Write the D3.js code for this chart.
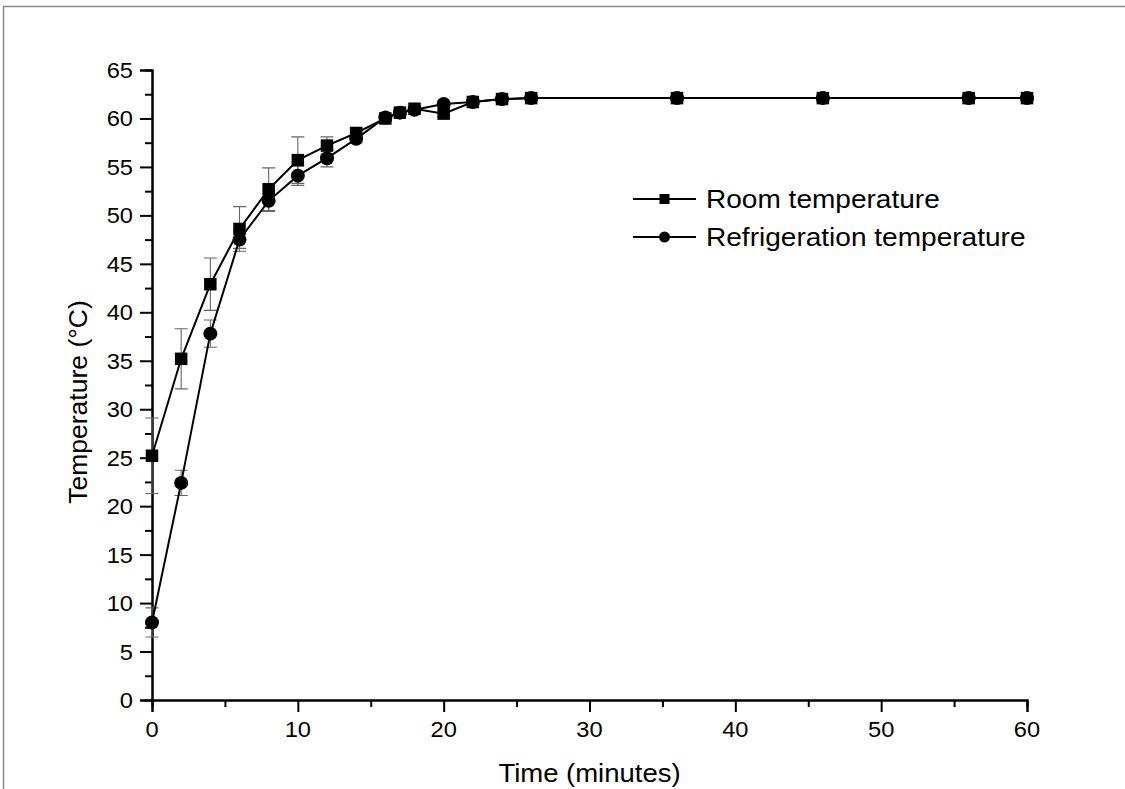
<!DOCTYPE html>
<html>
<head>
<meta charset="utf-8">
<script src="https://cdn.jsdelivr.net/npm/d3@7"></script>
<style>
  html, body { margin: 0; padding: 0; background: #fff; }
  svg { display: block; }
  text { font-family: "Liberation Sans", Arial, sans-serif; fill: #000; }
</style>
</head>
<body>
<div id="chart"></div>
<script>
// sample times (minutes)
const times = [0, 2, 4, 6, 8, 10, 12, 14, 16, 17, 18, 20, 22, 24, 26, 36, 46, 56, 60];

// Room temperature series (squares)
const roomTemp = [25.2, 35.2, 42.9, 48.6, 52.7, 55.7, 57.2, 58.5, 60.0, 60.6, 61.0, 60.5, 61.7, 62.0, 62.1, 62.1, 62.1, 62.1, 62.1];
const roomErr  = [3.9, 3.1, 2.7, 2.3, 2.2, 2.4, 0.9, 0.5, 0.3, 0.2, 0.2, 0.3, 0.2, 0.1, 0.1, 0.1, 0.1, 0.1, 0.1];

// Refrigeration temperature series (circles)
const refrTemp = [8.0, 22.4, 37.8, 47.5, 51.5, 54.1, 55.9, 57.9, 60.1, 60.6, 60.9, 61.5, 61.7, 62.0, 62.1, 62.1, 62.1, 62.1, 62.1];
const refrErr  = [1.5, 1.3, 1.4, 0.9, 1.1, 1.0, 0.9, 0.4, 0.3, 0.2, 0.2, 0.2, 0.2, 0.1, 0.1, 0.1, 0.1, 0.1, 0.1];

const xTicks = [0, 10, 20, 30, 40, 50, 60];
const yTicks = [0, 5, 10, 15, 20, 25, 30, 35, 40, 45, 50, 55, 60, 65];
const legendLabels = ["Room temperature", "Refrigeration temperature"];

const W = 1125, H = 789;
const margin = { top: 70, right: 98, bottom: 89, left: 152 };
const SX = 1.1; // horizontal stretch of the original text

const svg = d3.select('#chart').append('svg')
  .attr('width', W)
  .attr('height', H);

// page frame (top + left edges only)
svg.append('path')
  .attr('d', `M3.5,${H} V6.5 H${W}`)
  .attr('fill', 'none')
  .attr('stroke', '#8a8a8a')
  .attr('stroke-width', 1.5);

const x = d3.scaleLinear().domain([0, 60]).range([margin.left, W - margin.right]);
const y = d3.scaleLinear().domain([0, 65]).range([H - margin.bottom, margin.top]);

function stretchedText(parent, tx, ty, str, size, anchor) {
  const g = parent.append('g').attr('transform', `translate(${tx},${ty}) scale(${SX},1)`);
  return g.append('text')
    .attr('text-anchor', anchor || 'middle')
    .style('font-size', size + 'px')
    .text(str);
}

// axes
const xAxis = svg.append('g').attr('transform', `translate(0,${y(0)})`);
xAxis.call(d3.axisBottom(x).tickValues(d3.range(5, 60, 10)).tickSize(7).tickFormat(''));
xAxis.call(g => g.append('g').call(d3.axisBottom(x).tickValues(xTicks).tickSize(12).tickFormat('')));
xAxis.selectAll('.domain').attr('stroke-width', 2);
xAxis.selectAll('line').attr('stroke-width', 2);
xTicks.forEach(t => stretchedText(svg, x(t), y(0) + 37, t, 21.5));

const yAxis = svg.append('g').attr('transform', `translate(${x(0)},0)`);
yAxis.call(d3.axisLeft(y).tickValues(d3.range(2.5, 65, 5)).tickSize(7).tickFormat(''));
yAxis.call(g => g.append('g').call(d3.axisLeft(y).tickValues(yTicks).tickSize(12).tickFormat('')));
yAxis.selectAll('.domain').attr('stroke-width', 2);
yAxis.selectAll('line').attr('stroke-width', 2);
yTicks.forEach(t => stretchedText(svg, x(0) - 19, y(t) + 8, t, 21.5, 'end'));

// axis titles
stretchedText(svg, x(30), 782, 'Time (minutes)', 25);
svg.append('text')
  .attr('transform', `translate(87,${(y(0) + y(65)) / 2 + 17}) rotate(-90)`)
  .attr('text-anchor', 'middle')
  .style('font-size', '26.5px')
  .text('Temperature (°C)');

// error bars
function errorBars(vals, errs) {
  const capW = 6.5;
  const g = svg.append('g').attr('stroke', '#666').attr('stroke-width', 1.1).attr('fill', 'none');
  times.forEach((t, i) => {
    const cx = x(t), top = y(vals[i] + errs[i]), bot = y(vals[i] - errs[i]);
    g.append('path').attr('d', `M${cx},${top} V${bot} M${cx - capW},${top} H${cx + capW} M${cx - capW},${bot} H${cx + capW}`);
  });
}
errorBars(roomTemp, roomErr);
errorBars(refrTemp, refrErr);

// lines
const line = d3.line().x((d, i) => x(times[i])).y(d => y(d));
[roomTemp, refrTemp].forEach(vals => {
  svg.append('path')
    .datum(vals)
    .attr('d', line)
    .attr('fill', 'none')
    .attr('stroke', '#000')
    .attr('stroke-width', 2);
});

// markers
const sq = 12.5;
svg.append('g').selectAll('rect')
  .data(roomTemp)
  .join('rect')
    .attr('x', (d, i) => x(times[i]) - sq / 2)
    .attr('y', d => y(d) - sq / 2)
    .attr('width', sq)
    .attr('height', sq)
    .attr('fill', '#000');

svg.append('g').selectAll('circle')
  .data(refrTemp)
  .join('circle')
    .attr('cx', (d, i) => x(times[i]))
    .attr('cy', d => y(d))
    .attr('r', 7)
    .attr('fill', '#000');

// legend
const legend = svg.append('g').attr('transform', 'translate(633,0)');
const legendRows = [199, 237];
legendLabels.forEach((label, i) => {
  const ly = legendRows[i];
  legend.append('line')
    .attr('x1', 0).attr('x2', 63)
    .attr('y1', ly).attr('y2', ly)
    .attr('stroke', '#000').attr('stroke-width', 2);
  if (i === 0) {
    legend.append('rect')
      .attr('x', 31.5 - 5).attr('y', ly - 5)
      .attr('width', 10).attr('height', 10)
      .attr('fill', '#000');
  } else {
    legend.append('circle')
      .attr('cx', 31.5).attr('cy', ly).attr('r', 5.5)
      .attr('fill', '#000');
  }
  stretchedText(legend, 73, ly + 9, label, 25.5, 'start');
});
</script>
</body>
</html>
